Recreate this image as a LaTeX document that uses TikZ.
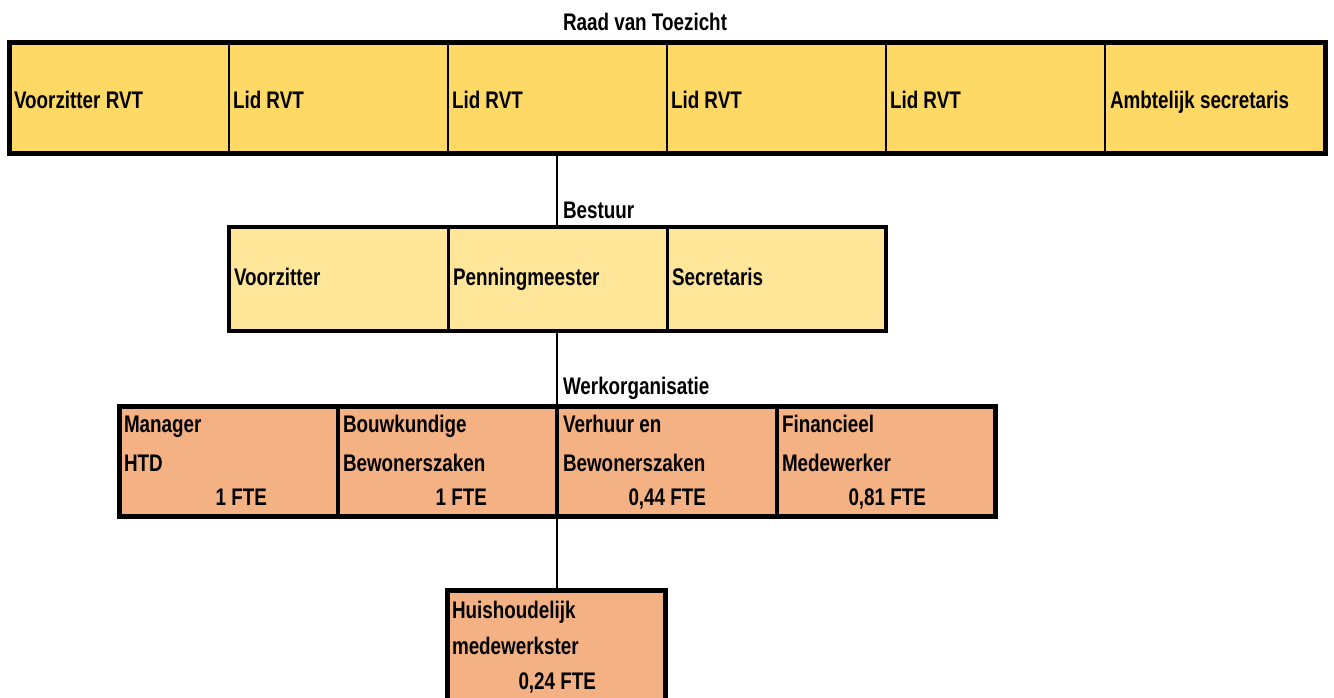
\documentclass[tikz,border=0pt]{standalone}
\usepackage{fontspec}
\newfontfamily\narrowfont{Liberation Sans}[FakeStretch=0.785]
\definecolor{rvtfill}{HTML}{FFD966}
\definecolor{bestfill}{HTML}{FFE699}
\definecolor{werkfill}{HTML}{F4B183}
\tikzset{
  lab/.style={anchor=base west, inner sep=0pt, outer sep=0pt, font=\narrowfont\bfseries\fontsize{24}{28}\selectfont},
  labr/.style={lab, anchor=base east},
  cellbase/.style={draw, anchor=north west, inner sep=0pt, outer sep=0pt},
  rvtcell/.style={cellbase, fill=rvtfill, line width=1.5pt, minimum height=110.5pt},
  bestcell/.style={cellbase, fill=bestfill, line width=3pt, minimum height=104pt, minimum width=219pt},
  werkcell/.style={cellbase, fill=werkfill, line width=4pt, minimum height=110pt},
  frame/.style={draw, line width=5pt, fill=none},
  conn/.style={draw, line width=1.5pt}
}
\begin{document}
\begin{tikzpicture}[x=1pt,y=-1pt]
\useasboundingbox (0,0) rectangle (1334,697);
% Raad van Toezicht
\node[rvtcell, minimum width=219.5pt] (r1) at (9.5,42.5) {};
\node[rvtcell, minimum width=219pt] (r2) at (229,42.5) {};
\node[rvtcell, minimum width=219pt] (r3) at (448,42.5) {};
\node[rvtcell, minimum width=219pt] (r4) at (667,42.5) {};
\node[rvtcell, minimum width=219pt] (r5) at (886,42.5) {};
\node[rvtcell, minimum width=220.5pt] (r6) at (1105,42.5) {};
\draw[frame] (r1.north west) rectangle (r6.south east);
\node[lab] (t1) at (14,108.5) {Voorzitter RVT};
\node[lab] (t2) at (233,108.5) {Lid RVT};
\node[lab] (t3) at (452,108.5) {Lid RVT};
\node[lab] (t4) at (671,108.5) {Lid RVT};
\node[lab] (t5) at (890,108.5) {Lid RVT};
\node[lab] (t6) at (1110,108.5) {Ambtelijk secretaris};
\node[lab] (hr) at (563,30.5) {Raad van Toezicht};
% Bestuur
\node[bestcell] (b1) at (229,227) {};
\node[bestcell] (b2) at (448,227) {};
\node[bestcell] (b3) at (667,227) {};
\draw[frame, line width=4.5pt] (b1.north west) rectangle (b3.south east);
\node[lab] (bt1) at (234,285.5) {Voorzitter};
\node[lab] (bt2) at (453,285.5) {Penningmeester};
\node[lab] (bt3) at (672,285.5) {Secretaris};
\node[lab] (hb) at (563,218.5) {Bestuur};
% Werkorganisatie
\node[werkcell, minimum width=218.5pt] (w1) at (119.5,406.5) {};
\node[werkcell, minimum width=219pt] (w2) at (338,406.5) {};
\node[werkcell, minimum width=220pt] (w3) at (557,406.5) {};
\node[werkcell, minimum width=218.5pt] (w4) at (777,406.5) {};
\draw[frame] (w1.north west) rectangle (w4.south east);
\node[lab] (hw) at (563,394.5) {Werkorganisatie};
\node[lab] (w1a) at (124,432.5) {Manager};
\node[lab] (w1b) at (124,471.5) {HTD};
\node[labr] (w1c) at (267,505.5) {1 FTE};
\node[lab] (w2a) at (343,432.5) {Bouwkundige};
\node[lab] (w2b) at (343,471.5) {Bewonerszaken};
\node[labr] (w2c) at (487,505.5) {1 FTE};
\node[lab] (w3a) at (563,432.5) {Verhuur en};
\node[lab] (w3b) at (563,471.5) {Bewonerszaken};
\node[labr] (w3c) at (706,505.5) {0,44 FTE};
\node[lab] (w4a) at (782,432.5) {Financieel};
\node[lab] (w4b) at (782,471.5) {Medewerker};
\node[labr] (w4c) at (926,505.5) {0,81 FTE};
% Huishoudelijk
\node[werkcell, minimum width=218pt, minimum height=120pt] (h1) at (447,590.5) {};
\draw[frame] (h1.north west) rectangle (h1.south east);
\node[lab] (h1a) at (452,618.5) {Huishoudelijk};
\node[lab] (h1b) at (452,654.5) {medewerkster};
\node[labr] (h1c) at (596,689.5) {0,24 FTE};
% connectors
\draw[conn] (w2.north east |- r3.south) -- (w2.north east |- b2.north);
\draw[conn] (w2.north east |- b2.south) -- (w2.north east);
\draw[conn] (w2.south east) -- (w2.south east |- h1.north);
\end{tikzpicture}
\end{document}
